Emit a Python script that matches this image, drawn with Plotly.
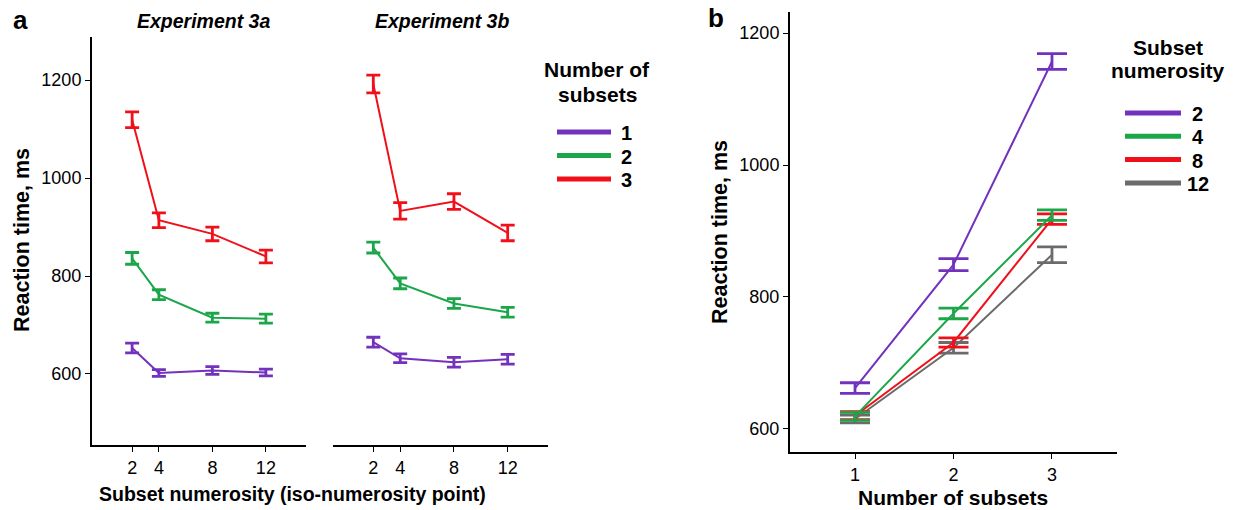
import plotly.graph_objects as go

# ---------------- data ----------------
numerosity = [2, 4, 8, 12]
subsets_labels_a = ["1", "2", "3"]

exp3a_n1 = [653, 602, 607, 603]
exp3a_n2 = [836, 762, 715, 713]
exp3a_n3 = [1119, 914, 886, 840]
err3a_n1 = [10, 7, 8, 7]
err3a_n2 = [12, 10, 9, 9]
err3a_n3 = [16, 15, 14, 13]

exp3b_n1 = [665, 632, 624, 630]
exp3b_n2 = [858, 785, 744, 726]
exp3b_n3 = [1192, 933, 952, 888]
err3b_n1 = [10, 9, 10, 10]
err3b_n2 = [11, 11, 10, 10]
err3b_n3 = [18, 17, 16, 16]

n_subsets = [1, 2, 3]
numerosity_labels_b = ["2", "4", "8", "12"]
b_num2 = [662, 849, 1157]
b_num4 = [619, 775, 924]
b_num8 = [620, 731, 918]
b_num12 = [615, 723, 864]
err_b_num2 = [8, 9, 12]
err_b_num4 = [6, 8, 8]
err_b_num8 = [6, 7, 8]
err_b_num12 = [6, 8, 12]

a_ticks = [600, 800, 1000, 1200]
b_ticks = [600, 800, 1000, 1200]

# ---------------- style ----------------
PURPLE = "#7232BD"
GREEN = "#1CA64A"
RED = "#F0101A"
GRAY = "#6B6B6B"
FONT = "Arial, Liberation Sans, sans-serif"

fig = go.Figure()

def add_series(x, y, err, color, xa, ya, capw, thick):
    fig.add_trace(go.Scatter(
        x=x, y=y, mode="lines", xaxis=xa, yaxis=ya,
        line=dict(color=color, width=2),
        error_y=dict(type="data", array=err, visible=True, color=color,
                     thickness=thick, width=capw),
        showlegend=False, hoverinfo="x+y"))

a_colors = [PURPLE, GREEN, RED]
for ys, es, c in zip([exp3a_n1, exp3a_n2, exp3a_n3], [err3a_n1, err3a_n2, err3a_n3], a_colors):
    add_series(numerosity, ys, es, c, "x", "y", 7, 2.8)
for ys, es, c in zip([exp3b_n1, exp3b_n2, exp3b_n3], [err3b_n1, err3b_n2, err3b_n3], a_colors):
    add_series(numerosity, ys, es, c, "x2", "y2", 7, 2.8)

b_colors = [PURPLE, GREEN, RED, GRAY]
b_series = [b_num2, b_num4, b_num8, b_num12]
b_errs = [err_b_num2, err_b_num4, err_b_num8, err_b_num12]
# draw gray first so the others lie on top, as in the reference
for ys, es, c in reversed(list(zip(b_series, b_errs, b_colors))):
    add_series(n_subsets, ys, es, c, "x3", "y3", 15, 2.8)

W, H = 1234, 510
def px(x):
    return x / W
def py(y):
    return 1 - y / H

axis_common = dict(showgrid=False, zeroline=False, linecolor="black", linewidth=2,
                   ticks="outside", ticklen=5, tickwidth=1, tickcolor="black",
                   tickfont=dict(family=FONT, size=18, color="black"), showline=True)

fig.update_layout(
    width=W, height=H, autosize=False,
    margin=dict(l=0, r=0, t=0, b=0),
    paper_bgcolor="white", plot_bgcolor="white",
    font=dict(family=FONT, color="black"),
    xaxis=dict(domain=[px(92), px(306)], range=[-1, 15], tickvals=numerosity,
               anchor="y", **axis_common),
    yaxis=dict(domain=[py(445), py(37)], range=[455, 1288], tickvals=a_ticks,
               anchor="x", **axis_common),
    xaxis2=dict(domain=[px(333), px(548)], range=[-1, 15], tickvals=numerosity,
                anchor="y2", **axis_common),
    yaxis2=dict(domain=[py(445), py(37)], range=[455, 1288], anchor="x2",
                showline=False, showticklabels=False, ticks="", showgrid=False,
                zeroline=False),
    xaxis3=dict(domain=[px(790), px(1117)], range=[0.34, 3.66], tickvals=n_subsets,
                anchor="y3", **axis_common),
    yaxis3=dict(domain=[py(452), py(12)], range=[565, 1232], tickvals=b_ticks,
                anchor="x3", **axis_common),
)

ann = []
def text(x, y, s, size, bold=True, italic=False, angle=0, xanchor="center"):
    t = s
    if bold:
        t = "<b>" + t + "</b>"
    if italic:
        t = "<i>" + t + "</i>"
    ann.append(dict(x=px(x), y=py(y), xref="paper", yref="paper", text=t,
                    showarrow=False, textangle=angle, xanchor=xanchor, yanchor="middle",
                    font=dict(family=FONT, size=size, color="black")))

text(21, 20, "a", 26)
text(716, 18, "b", 26)
text(203, 21, "Experiment 3a", 19.5, italic=True)
text(442, 21, "Experiment 3b", 19.5, italic=True)
text(22, 240, "Reaction time, ms", 21.5, angle=-90)
text(720, 232, "Reaction time, ms", 21.5, angle=-90)
text(292, 494, "Subset numerosity (iso-numerosity point)", 19.5)
text(953, 497, "Number of subsets", 21)

# legend a
text(597, 70, "Number of", 21)
text(597, 94, "subsets", 21)
shapes = []
for i, (lab, c) in enumerate(zip(subsets_labels_a, a_colors)):
    yy = 132 + i * 23.5
    shapes.append(dict(type="line", xref="paper", yref="paper", x0=px(557), x1=px(611),
                       y0=py(yy), y1=py(yy), line=dict(color=c, width=5)))
    text(619, yy + 1, lab, 20, xanchor="left")

# legend b
text(1168, 47, "Subset", 21)
text(1168, 71, "numerosity", 21)
for i, (lab, c) in enumerate(zip(numerosity_labels_b, b_colors)):
    yy = 113 + i * 23.3
    shapes.append(dict(type="line", xref="paper", yref="paper", x0=px(1125), x1=px(1181),
                       y0=py(yy), y1=py(yy), line=dict(color=c, width=5)))
    text(1190 if len(lab) == 1 else 1185, yy + 1, lab, 20, xanchor="left")

fig.update_layout(annotations=ann, shapes=shapes)

fig.write_html("out.html", config={"displayModeBar": False},
               post_script="document.body.style.margin='0px';document.body.style.overflow='hidden';")
